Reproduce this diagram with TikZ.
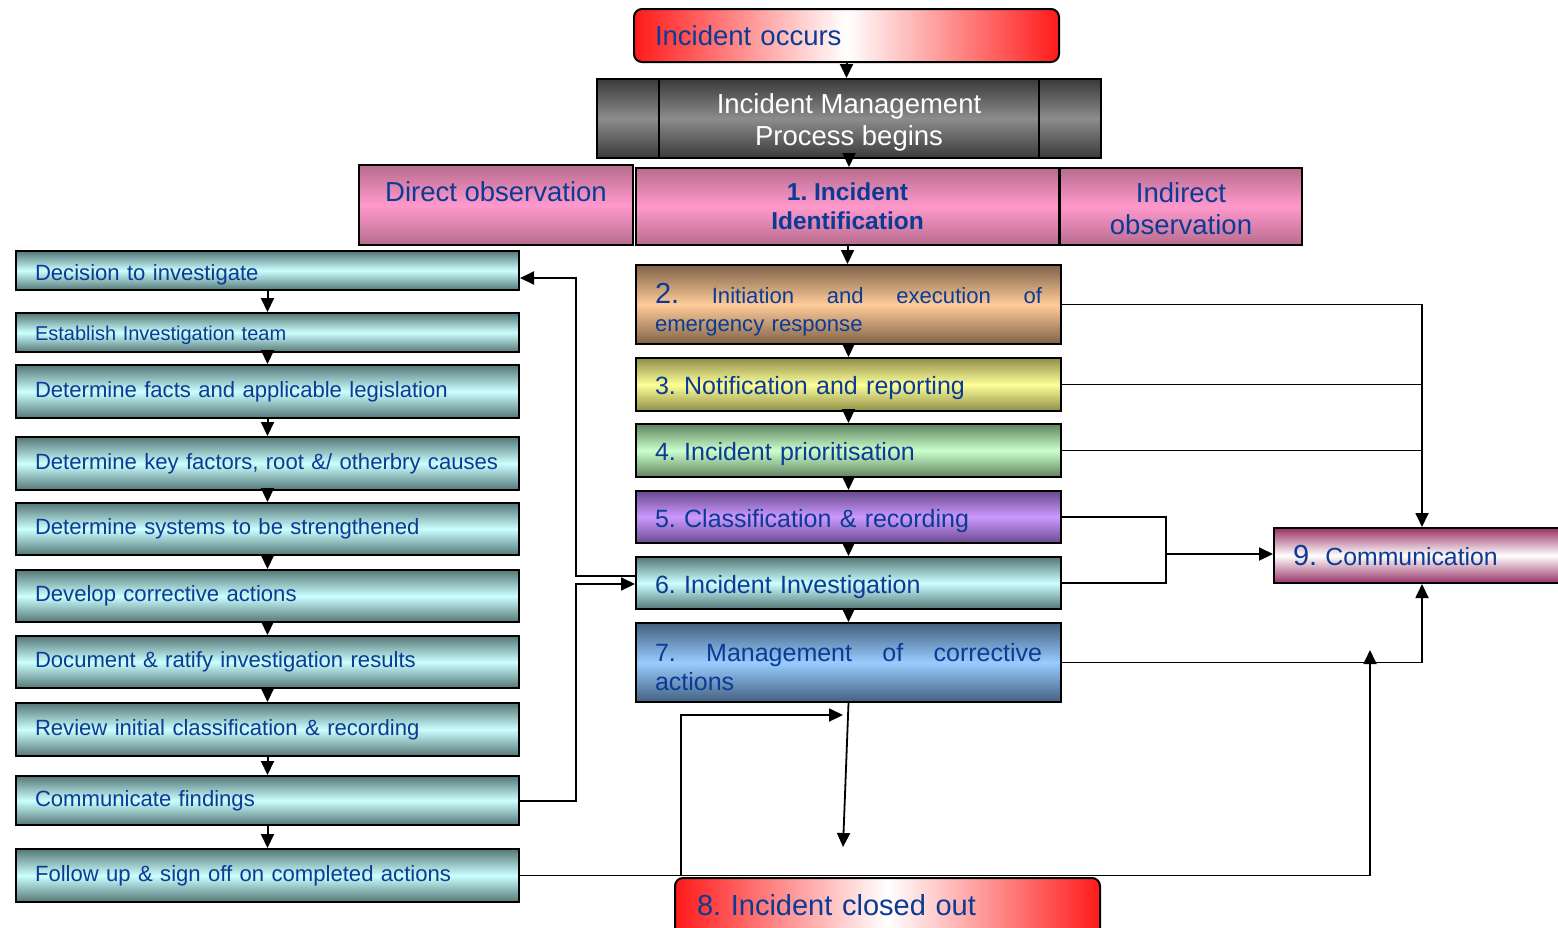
\documentclass[tikz,border=0pt]{standalone}
\usepackage{fontspec}
\setmainfont{Liberation Sans}
\usepackage{tikz}
\usetikzlibrary{arrows.meta,calc}
\definecolor{ink}{HTML}{0B3B94}
\definecolor{alarmred}{HTML}{FF1A1A}
\definecolor{greyedge}{HTML}{3A3A3A}
\definecolor{greymid}{HTML}{8C8C8C}
\definecolor{pinkedge}{HTML}{B86C8E}
\definecolor{pinkmid}{HTML}{FF99CC}
\definecolor{tealedge}{HTML}{557777}
\definecolor{tealmid}{HTML}{CCFFFF}
\definecolor{peachedge}{HTML}{7F6248}
\definecolor{peachmid}{HTML}{FFCC99}
\definecolor{yellowedge}{HTML}{8F8F48}
\definecolor{yellowmid}{HTML}{FFFF99}
\definecolor{greenedge}{HTML}{5F845F}
\definecolor{greenmid}{HTML}{CCFFCC}
\definecolor{purpleedge}{HTML}{6A4A8E}
\definecolor{purplemid}{HTML}{CC99FF}
\definecolor{blueedge}{HTML}{43607F}
\definecolor{bluemid}{HTML}{99CCFF}
\definecolor{maroon}{HTML}{993366}
\newcommand{\fbig}{\fontsize{13.75}{16}\selectfont}
\newcommand{\fmid}{\fontsize{12.5}{14.5}\selectfont}
\newcommand{\fsmall}{\fontsize{11.05}{14}\selectfont}
\newcommand{\ftiny}{\fontsize{10}{12}\selectfont}
\newcommand{\fbold}{\fontsize{12.25}{14.5}\selectfont\bfseries}
\newcommand{\fclose}{\fontsize{14.5}{17}\selectfont}
\newcommand{\fcomm}{\fontsize{12.4}{14}\selectfont}
\newcommand{\numf}{\fontsize{14.5}{14}\selectfont}
\frenchspacing
\tikzset{
  box/.style={draw=black,line width=1pt,anchor=north west,inner ysep=1pt,text=ink,align=left},
  shadev/.style 2 args={top color=#1,bottom color=#1,middle color=#2},
  alarm/.style={box,rounded corners=4pt,left color=alarmred,right color=alarmred,
    middle color=white,inner xsep=10.5pt,font=\fbig},
  obs/.style={box,align=center,font=\fbig,shadev={pinkedge}{pinkmid}},
  stage/.style={box,text width=193.5pt,inner xsep=9.5pt,font=\fmid,text height=13pt},
  task/.style={box,text width=232.5pt,inner xsep=9.5pt,font=\fsmall,shadev={tealedge}{tealmid}},
  arr/.style={-{Triangle[length=7pt,width=6.5pt]}},
  link/.style={line width=0.9pt},
}
\begin{document}
\begin{tikzpicture}[x=0.5pt,y=-0.5pt,line width=1pt]
  \useasboundingbox (0,0) rectangle (1558,927);
  % management process
  \node[alarm,text width=191.5pt,minimum height=26.5pt] (occurs) at (633,8) {Incident occurs};
  \node[box,align=center,text=white,font=\fbig,minimum width=252pt,minimum height=39.5pt,
    text height=30pt,shadev={greyedge}{greymid}] (imp) at (596,78) {Incident Management\\Process begins};
  \draw ([xshift=31.5pt]imp.north west) -- ([xshift=31.5pt]imp.south west);
  \draw ([xshift=-31.5pt]imp.north east) -- ([xshift=-31.5pt]imp.south east);
  \node[obs,minimum width=137pt,minimum height=40pt,text height=16pt,text depth=20pt] (direct) at (358,164) {Direct observation};
  \node[obs,font=\fbold,minimum width=211.5pt,minimum height=38.5pt] (ident) at (635,167) {1. Incident\\Identification};
  \node[obs,minimum width=121pt,minimum height=38.5pt,text height=28pt] (indirect) at (1059,167) {Indirect\\observation};
  \node[stage,shadev={peachedge}{peachmid},minimum height=39.5pt,font=\fsmall,text height=10.6pt,text depth=11.3pt] (b2) at (635,264)
    {{\numf 2.}\hfill Initiation\hfill and\hfill execution\hfill of\\emergency response};
  \node[stage,shadev={yellowedge}{yellowmid},minimum height=26.5pt] (b3) at (635,357) {3. Notification and reporting};
  \node[stage,shadev={greenedge}{greenmid},minimum height=26.5pt] (b4) at (635,423) {4. Incident prioritisation};
  \node[stage,shadev={purpleedge}{purplemid},minimum height=26pt] (b5) at (635,490) {5. Classification \& recording};
  \node[stage,shadev={tealedge}{tealmid},minimum height=26pt] (b6) at (635,556) {6. Incident Investigation};
  \node[stage,shadev={blueedge}{bluemid},minimum height=39.5pt,text height=9.1pt,text depth=10.6pt] (b7) at (635,622)
    {7.\hfill Management\hfill of\hfill corrective\\actions};
  \node[alarm,text width=190.5pt,inner xsep=11pt,minimum height=32pt,font=\fclose,text depth=5pt] (closed) at (674,877) {8. Incident closed out};
  \node[box,text width=124.5pt,inner xsep=9.5pt,minimum height=27.5pt,font=\fcomm,
    shadev={maroon}{white}] (comm) at (1273,527) {{\numf 9.} Communication};
  % investigation steps
  \node[task,minimum height=19.5pt,text height=12pt] (t1) at (15,250) {Decision to investigate};
  \node[task,minimum height=19.5pt,font=\ftiny,text height=10.3pt] (t2) at (15,312) {Establish Investigation team};
  \node[task,minimum height=26.5pt] (t3) at (15,364) {Determine facts and applicable legislation};
  \node[task,minimum height=26.5pt] (t4) at (15,436) {\mbox{Determine key factors, root \&/ otherbry causes}};
  \node[task,minimum height=26pt] (t5) at (15,502) {Determine systems to be strengthened};
  \node[task,minimum height=26pt] (t6) at (15,569) {Develop corrective actions};
  \node[task,minimum height=26pt] (t7) at (15,635) {Document \& ratify investigation results};
  \node[task,minimum height=26.5pt] (t8) at (15,702) {Review initial classification \& recording};
  \node[task,minimum height=24.5pt] (t9) at (15,775) {Communicate findings};
  \node[task,minimum height=26.5pt] (t10) at (15,848) {Follow up \& sign off on completed actions};
  % flow
  \draw[arr] (occurs.south) -- (occurs.south |- imp.north);
  \draw[arr] (imp.south) -- (imp.south |- ident.north);
  \foreach \u/\v in {ident/b2,b2/b3,b3/b4,b4/b5,b5/b6,b6/b7}
    \draw[arr] (\u.south) -- (\u.south |- \v.north);
  \foreach \u/\v in {t1/t2,t2/t3,t3/t4,t4/t5,t5/t6,t6/t7,t7/t8,t8/t9,t9/t10}
    \draw[arr] (\u.south) -- (\v.north);
  % communication bus
  \coordinate (bus) at (1422,0);
  \coordinate (split) at (1166,554);
  \draw[link,arr] (b2.east) -| (bus |- comm.north);
  \draw[link] (b3.east) -- (bus |- b3.east);
  \draw[link] (b4.east) -- (bus |- b4.east);
  \draw[link] (b5.east) -| (split |- b6.east) -- (b6.east);
  \draw[arr] (split) -- (split -| comm.west);
  \draw[link,arr] (b7.east) -| (bus |- comm.south);
  % investigation loop
  \coordinate (lbus) at (576,0);
  \coordinate (invOut) at ($(b6.west)+(0,-7)$);
  \coordinate (invIn) at ($(b6.west)+(0,1)$);
  \coordinate (decIn) at ($(t1.east)+(0,7.5)$);
  \draw[arr] (invOut) -| (lbus |- decIn) -- (decIn);
  \draw[arr] (t9.east) -| (lbus |- invIn) -- (invIn);
  % close out
  \coordinate (drop) at (843,847);
  \coordinate (hit) at (843,715);
  \coordinate (riser) at (681,0);
  \coordinate (up) at (1370,650);
  \draw[link,arr] (b7.south) -- (drop);
  \draw[link,arr] (t10.east) -| (riser |- hit) -- (hit);
  \draw[link,arr] (t10.east) -| (up);
\end{tikzpicture}
\end{document}
